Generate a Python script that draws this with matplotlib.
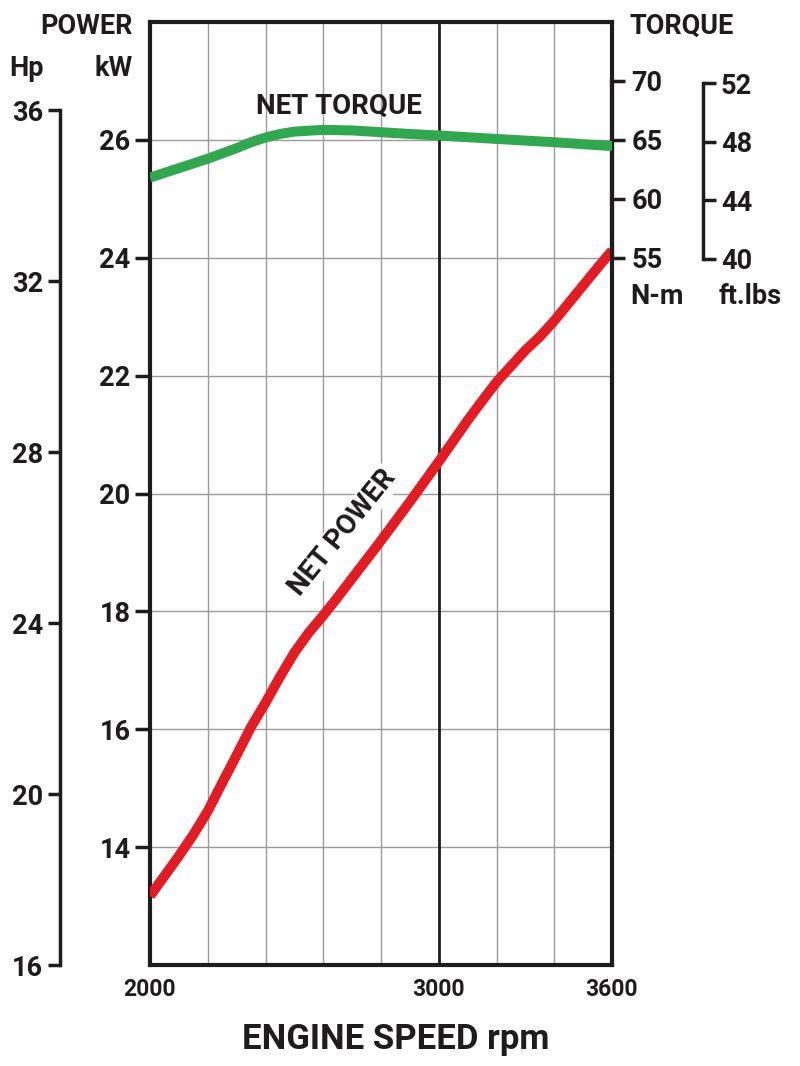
import matplotlib
matplotlib.use("Agg")
import matplotlib.pyplot as plt

plt.rcParams['font.family'] = ['Roboto', 'DejaVu Sans']
plt.rcParams['font.weight'] = 'bold'

# data
rpm = [2000, 2050, 2100, 2150, 2200, 2250, 2300, 2350, 2400, 2450, 2500,
       2550, 2600, 2650, 2700, 2750, 2800, 2850, 2900, 2950, 3000, 3050,
       3100, 3150, 3200, 3250, 3300, 3350, 3400, 3450, 3500, 3550, 3600]
power_kw = [13.17, 13.51, 13.85, 14.21, 14.61, 15.09, 15.56, 16.04, 16.45,
            16.89, 17.30, 17.64, 17.93, 18.24, 18.56, 18.88, 19.20, 19.53,
            19.86, 20.20, 20.54, 20.89, 21.24, 21.57, 21.89, 22.16, 22.43,
            22.66, 22.93, 23.23, 23.53, 23.83, 24.12]
torque_rpm = [2000, 2100, 2200, 2300, 2350, 2400, 2450, 2500, 2600, 2700,
              2800, 2900, 3000, 3200, 3400, 3600]
torque_nm = [61.8, 62.6, 63.4, 64.3, 64.8, 65.2, 65.5, 65.7, 65.85, 65.8,
             65.65, 65.5, 65.37, 65.08, 64.8, 64.47]

kw_ticks = [14, 16, 18, 20, 22, 24, 26]
hp_ticks = [16, 20, 24, 28, 32, 36]
nm_ticks = [55, 60, 65, 70]
ftlb_ticks = [40, 44, 48, 52]
x_ticks = [2000, 3000, 3600]
grid_rpm = [2200, 2400, 2600, 2800, 3200, 3400]

W, H = 800, 1066
fig = plt.figure(figsize=(8, 10.66), dpi=100)
rect = [150 / W, 1 - 965 / H, 462 / W, 943 / H]
ax = fig.add_axes(rect)
ink = '#1e1c1c'
fs = 19.5

# main power axis (kW)
ax.set_xlim(2000, 3600)
ax.set_ylim(12, 28)
ax.set_yticks(kw_ticks)
ax.set_xticks(x_ticks)
ax.tick_params(axis='y', direction='out', length=11, width=2.5, labelsize=fs,
               colors=ink, pad=3)
ax.tick_params(axis='x', length=0, labelsize=16.5, colors=ink, pad=9)
ax.yaxis.grid(True, color='#9a9a9a', lw=1)
for g in grid_rpm:
    ax.axvline(g, color='#9a9a9a', lw=1, zorder=1)
ax.axvline(3000, color=ink, lw=2, zorder=1)
for s in ax.spines.values():
    s.set_linewidth(3)
    s.set_color(ink)
ax.set_axisbelow(True)

# horsepower axis
ax_hp = fig.add_axes(rect, sharex=ax)
ax_hp.patch.set_visible(False)
ax_hp.set_ylim(16, 38.06)
ax_hp.set_yticks(hp_ticks)
for k in ['top', 'right', 'bottom']:
    ax_hp.spines[k].set_visible(False)
ax_hp.spines['left'].set_position(('outward', 90 * 0.72))
ax_hp.spines['left'].set_bounds(16, 36)
ax_hp.spines['left'].set_linewidth(2.5)
ax_hp.spines['left'].set_color(ink)
ax_hp.tick_params(axis='y', direction='out', length=9, width=2.5, labelsize=fs,
                  colors=ink, pad=3)
ax_hp.tick_params(axis='x', which='both', bottom=False, labelbottom=False)

# torque axis N-m
ax_nm = ax.twinx()
ax_nm.set_ylim(-5, 75)
ax_nm.set_yticks(nm_ticks)
for k in ['top', 'left', 'bottom']:
    ax_nm.spines[k].set_visible(False)
ax_nm.spines['right'].set_bounds(55, 70)
ax_nm.spines['right'].set_linewidth(3)
ax_nm.spines['right'].set_color(ink)
ax_nm.tick_params(axis='y', direction='out', length=9, width=2.5, labelsize=fs,
                  colors=ink, pad=5)

# torque axis ft.lbs
ax_ft = ax.twinx()
ax_ft.set_ylim(-8.14, 56.16)
ax_ft.set_yticks(ftlb_ticks)
for k in ['top', 'left', 'bottom']:
    ax_ft.spines[k].set_visible(False)
ax_ft.spines['right'].set_position(('outward', 91 * 0.72))
ax_ft.spines['right'].set_bounds(40, 52)
ax_ft.spines['right'].set_linewidth(2.5)
ax_ft.spines['right'].set_color(ink)
ax_ft.tick_params(axis='y', direction='out', length=9, width=2.5, labelsize=fs,
                  colors=ink, pad=4)

# curves
ax.plot(rpm, power_kw, color='#e31b23', lw=7.2, solid_capstyle='butt',
        solid_joinstyle='round', zorder=5)
ax_nm.plot(torque_rpm, torque_nm, color='#31a84f', lw=7.2,
           solid_capstyle='butt', solid_joinstyle='round', zorder=5)

ax.text(2655, 26.57, 'NET TORQUE', fontsize=20, color=ink, ha='center',
        va='center', zorder=6)
ax.text(2668, 19.33, 'NET POWER', fontsize=20, color=ink, ha='center',
        va='center', rotation=51, rotation_mode='anchor', zorder=6,
        bbox=dict(facecolor='white', edgecolor='none', pad=1))

def ftext(x, y, s, **kw):
    fig.text(x / W, 1 - y / H, s, color=ink, va='center', **kw)

ftext(133, 26, 'POWER', fontsize=fs, ha='right')
ftext(133, 69, 'kW', fontsize=fs, ha='right')
ftext(44, 69, 'Hp', fontsize=fs, ha='right')
ftext(630, 26, 'TORQUE', fontsize=fs, ha='left')
ftext(630, 297, 'N-m', fontsize=fs, ha='left')
ftext(719, 297, 'ft.lbs', fontsize=fs, ha='left')
ftext(396, 1040, 'ENGINE SPEED rpm', fontsize=25, ha='center')

fig.savefig('out.png', dpi=100, facecolor='white')
